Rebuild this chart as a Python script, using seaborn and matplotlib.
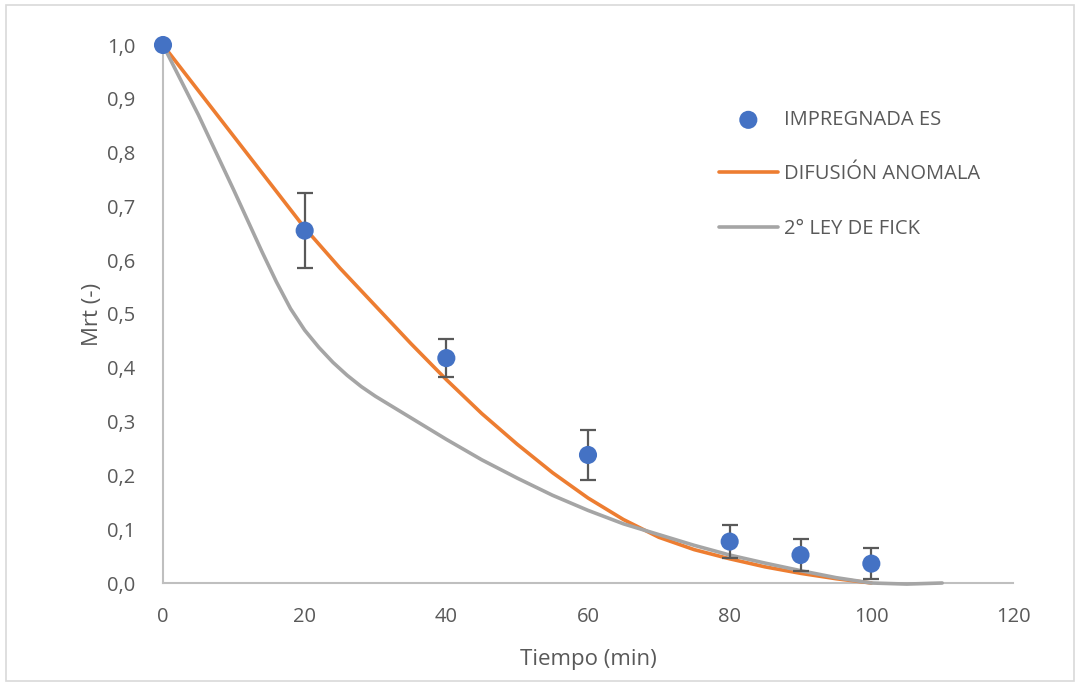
import matplotlib
matplotlib.use("Agg")
import matplotlib.pyplot as plt
import seaborn as sns
import pandas as pd
from matplotlib.patches import Rectangle
from matplotlib.ticker import FuncFormatter

# Experimental points
t_exp = [0, 20, 40, 60, 80, 90, 100]
mrt_exp = [1.0, 0.655, 0.418, 0.238, 0.077, 0.052, 0.036]
err_exp = [0.0, 0.07, 0.036, 0.046, 0.031, 0.03, 0.029]

# Model curves
t_anom = [0, 5, 10, 15, 20, 25, 30, 35, 40, 45, 50, 55, 60, 65, 70, 75, 80, 85, 90, 95, 100]
mrt_anom = [1.0, 0.915, 0.83, 0.745, 0.66, 0.585, 0.515, 0.445, 0.378, 0.315, 0.258,
            0.205, 0.158, 0.118, 0.085, 0.062, 0.045, 0.03, 0.018, 0.008, 0.0]

t_fick = [0, 5, 10, 14, 16, 18, 20, 22, 24, 26, 28, 30, 35, 40, 45, 50, 55, 60, 65, 70,
          75, 80, 85, 90, 95, 100, 105, 110]
mrt_fick = [1.0, 0.87, 0.73, 0.615, 0.56, 0.51, 0.47, 0.438, 0.41, 0.386, 0.365, 0.347,
            0.307, 0.267, 0.229, 0.195, 0.163, 0.135, 0.11, 0.09, 0.07, 0.052, 0.037,
            0.023, 0.01, 0.0, -0.002, 0.0]

x_ticks = [0, 20, 40, 60, 80, 100, 120]
y_ticks = [0.0, 0.1, 0.2, 0.3, 0.4, 0.5, 0.6, 0.7, 0.8, 0.9, 1.0]

sns.set_theme(style="white")
plt.rcParams['font.family'] = ['Open Sans', 'DejaVu Sans']

fig = plt.figure(figsize=(10.81, 6.85), dpi=100)
ax = fig.add_axes([163/1081, 1-583/685, (1013-163)/1081, (583-45)/685])

df_anom = pd.DataFrame({"t": t_anom, "m": mrt_anom})
df_fick = pd.DataFrame({"t": t_fick, "m": mrt_fick})
df_exp = pd.DataFrame({"t": t_exp, "m": mrt_exp, "e": err_exp})

sns.lineplot(data=df_anom, x="t", y="m", ax=ax, color="#ED7D31", linewidth=2.6,
             label="DIFUSIÓN ANOMALA", sort=False, clip_on=False, zorder=3)
sns.lineplot(data=df_fick, x="t", y="m", ax=ax, color="#A5A5A5", linewidth=2.6,
             label="2° LEY DE FICK", sort=False, clip_on=False, zorder=3)
ax.errorbar(df_exp["t"][1:], df_exp["m"][1:], yerr=df_exp["e"][1:], fmt="none",
            ecolor="#595959", elinewidth=1.6, capsize=6, capthick=1.6, zorder=4)
sns.scatterplot(data=df_exp, x="t", y="m", ax=ax, color="#4472C4", s=170,
                edgecolor="none", label="IMPREGNADA ES", clip_on=False, zorder=5)

ax.set_xlim(0, 120)
ax.set_ylim(0, 1.0)
ax.set_xticks(x_ticks)
ax.set_yticks(y_ticks)
ax.yaxis.set_major_formatter(FuncFormatter(lambda v, p: f"{v:.1f}".replace(".", ",")))
ax.tick_params(axis="both", length=0, labelsize=14.5, labelcolor="#595959")
ax.tick_params(axis="y", pad=20)
ax.tick_params(axis="x", pad=17)

for s in ["top", "right"]:
    ax.spines[s].set_visible(False)
for s in ["left", "bottom"]:
    ax.spines[s].set_color("#BFBFBF")
    ax.spines[s].set_linewidth(1.5)
ax.grid(False)

ax.set_xlabel("Tiempo (min)", fontsize=16, color="#595959", labelpad=16)
ax.set_ylabel("Mrt (-)", fontsize=16, color="#595959", labelpad=3)

handles, labels = ax.get_legend_handles_labels()
order = [labels.index("IMPREGNADA ES"), labels.index("DIFUSIÓN ANOMALA"), labels.index("2° LEY DE FICK")]
leg = ax.legend([handles[i] for i in order], [labels[i] for i in order],
                loc="upper left", bbox_to_anchor=((701-163)/850, 1-(92-45)/538),
                frameon=False, fontsize=14.5, labelcolor="#595959",
                handlelength=2.9, handletextpad=0.3, labelspacing=1.7)

fig.add_artist(Rectangle((6/1081, 4/685), 1068/1081, 676/685, transform=fig.transFigure,
                         fill=False, edgecolor="#D9D9D9", linewidth=1.2))

fig.savefig("out.png", dpi=100)
